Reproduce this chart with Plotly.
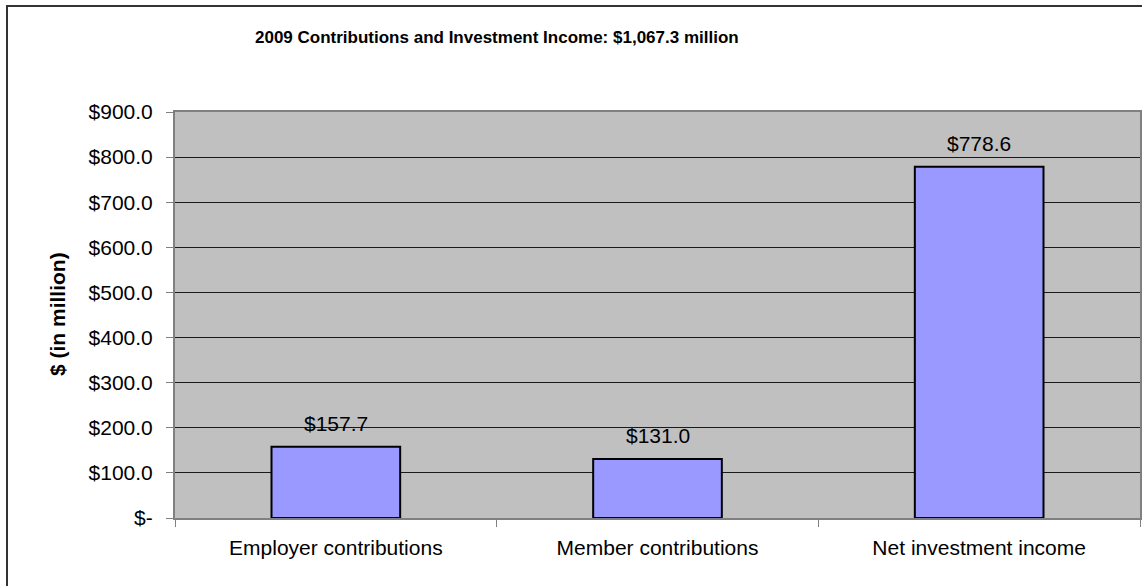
import plotly.graph_objects as go

# Chart data
categories = ["Employer contributions", "Member contributions", "Net investment income"]
values = [157.7, 131.0, 778.6]
value_labels = ["$157.7", "$131.0", "$778.6"]
tick_values = [0, 100, 200, 300, 400, 500, 600, 700, 800, 900]
tick_labels = ["$-", "$100.0", "$200.0", "$300.0", "$400.0", "$500.0",
               "$600.0", "$700.0", "$800.0", "$900.0"]
title_text = "2009 Contributions and Investment Income: $1,067.3 million"
y_title = "$ (in million)"

W, H = 1142, 586
L, R, T, B = 175, 2, 112, 68
PW, PH = W - L - R, H - T - B

def px_x(p):
    return (p - L) / PW

def px_y(p):
    return (H - B - p) / PH

FONT = "Liberation Sans, Arial, sans-serif"

fig = go.Figure()
fig.add_trace(go.Bar(
    x=categories,
    y=values,
    width=0.4,
    marker=dict(color="#9999FF", line=dict(color="#000000", width=2)),
    hoverinfo="x+y",
))

# value labels above each bar
for c, v, t in zip(categories, values, value_labels):
    fig.add_annotation(x=c, y=v, text=t, showarrow=False, yanchor="bottom",
                       yshift=10, font=dict(family=FONT, size=21, color="#000000"))

# chart title
fig.add_annotation(xref="paper", yref="paper", x=px_x(497), y=px_y(37),
                   text="<b>" + title_text + "</b>", showarrow=False,
                   xanchor="center", yanchor="middle",
                   font=dict(family=FONT, size=17, color="#000000"))

# vertical axis title
fig.add_annotation(xref="paper", yref="paper", x=px_x(57), y=px_y(314),
                   text="<b>" + y_title + "</b>", showarrow=False, textangle=-90,
                   xanchor="center", yanchor="middle",
                   font=dict(family=FONT, size=21, color="#000000"))

# outer chart frame
fig.add_shape(type="rect", xref="paper", yref="paper",
              x0=px_x(7), x1=px_x(1180), y0=px_y(640), y1=px_y(6),
              line=dict(color="#333333", width=2), fillcolor="rgba(0,0,0,0)", layer="above")

fig.update_layout(
    width=W, height=H,
    margin=dict(l=L, r=R, t=T, b=B, autoexpand=False),
    paper_bgcolor="#FFFFFF",
    plot_bgcolor="#C0C0C0",
    showlegend=False,
    font=dict(family=FONT, size=21, color="#000000"),
)
fig.update_xaxes(
    type="category",
    showgrid=False,
    showline=True, linecolor="#808080", linewidth=2, mirror=True,
    ticks="outside", tickson="boundaries", ticklen=7, tickcolor="#808080", tickwidth=1,
    ticklabelstandoff=10,
    tickfont=dict(family=FONT, size=21, color="#000000"),
)
fig.update_yaxes(
    range=[0, 900],
    tickmode="array", tickvals=tick_values, ticktext=tick_labels,
    showgrid=True, gridcolor="#1a1a1a", gridwidth=1,
    zeroline=False,
    showline=True, linecolor="#808080", linewidth=2, mirror=True,
    ticks="outside", ticklen=7, tickcolor="#808080", tickwidth=1,
    ticklabelstandoff=9,
    tickfont=dict(family=FONT, size=21, color="#000000"),
)

fig.write_html("out.html")
